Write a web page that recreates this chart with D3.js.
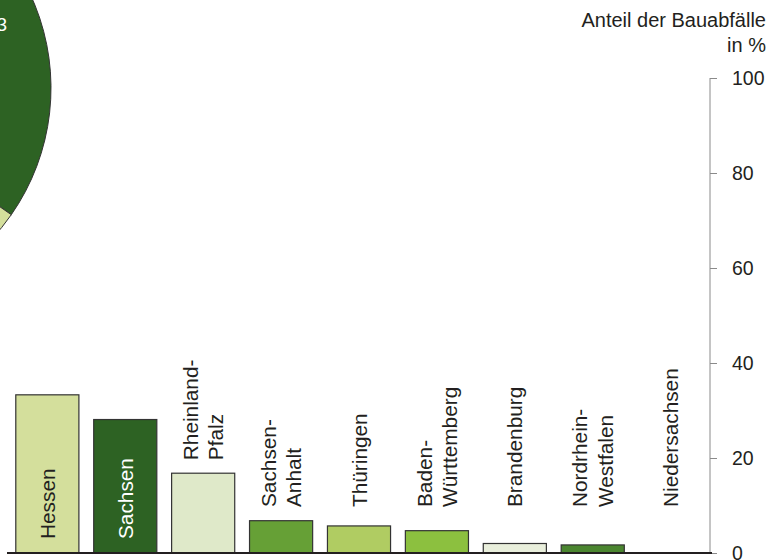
<!DOCTYPE html>
<html><head><meta charset="utf-8">
<script src="https://cdn.jsdelivr.net/npm/d3@7"></script>
<style>body{margin:0;background:#fff}svg{display:block}text{font-family:"Liberation Sans",Arial,Helvetica,sans-serif}</style>
</head><body>
<svg id="c" width="772" height="560"></svg>
<script>
const categories = ["Hessen","Sachsen","Rheinland-Pfalz","Sachsen-Anhalt","Thüringen","Baden-Württemberg","Brandenburg","Nordrhein-Westfalen","Niedersachsen"];
const labelLines = [["Hessen"],["Sachsen"],["Rheinland-","Pfalz"],["Sachsen-","Anhalt"],["Thüringen"],["Baden-","Württemberg"],["Brandenburg"],["Nordrhein-","Westfalen"],["Niedersachsen"]];
const values = [33.3, 28.1, 16.8, 6.8, 5.7, 4.7, 2.0, 1.7, 0];
const colors = ["#d4df9c","#2d6223","#dfe9c9","#66a036","#b0cc62","#8cc03f","#e9efdc","#4b8630","#ffffff"];
const insideLabel = [true, true, false, false, false, false, false, false, false];
const yTicks = [0, 20, 40, 60, 80, 100];
const pieValues = [63, 37];
const pieLabels = ["63", ""];
const pieColors = ["#2d6223", "#d4df9c"];
const titleLines = ["Anteil der Bauabfälle", "in %"];

const svg = d3.select("#c");
const x = d3.scaleBand().domain(categories).range([8, 710]).paddingInner(0.19).paddingOuter(0.1);
const y = d3.scaleLinear().domain([0, 100]).range([553, 78]);

// pie (partly off-canvas)
const pie = d3.pie().sort(null).startAngle(-102 * Math.PI / 180).endAngle((360 - 102) * Math.PI / 180);
const arc = d3.arc().innerRadius(0).outerRadius(222);
const pg = svg.append("g").attr("transform", "translate(-171,88)");
const arcs = pie(pieValues);
pg.selectAll("path").data(arcs).join("path")
  .attr("d", arc).attr("fill", (d, i) => pieColors[i]).attr("stroke", "#333").attr("stroke-width", 1);
svg.append("text").attr("x", 7).attr("y", 31).attr("text-anchor", "end")
  .attr("font-size", 19).attr("fill", "#fff").text(pieLabels[0]);

// axis
const axis = d3.axisRight(y).tickValues(yTicks).tickSize(7).tickPadding(15);
const ag = svg.append("g").attr("transform", "translate(710,0)").call(axis);
ag.select(".domain").attr("stroke", "#8a8a8a").attr("d", `M0,${y(0)}V${y(100)}`);
ag.selectAll(".tick line").attr("stroke", "#8a8a8a");
ag.selectAll(".tick text").attr("font-size", 19.5).attr("fill", "#231f20").attr("font-family", "Liberation Sans, Arial, sans-serif");

// bars
svg.append("g").selectAll("rect").data(values).join("rect")
  .attr("x", (d, i) => x(categories[i]))
  .attr("y", d => y(d))
  .attr("width", x.bandwidth())
  .attr("height", d => y(0) - y(d))
  .attr("fill", (d, i) => colors[i])
  .attr("stroke", (d) => d > 0 ? "#333" : "none").attr("stroke-width", 1.2);

// baseline
svg.append("line").attr("x1", 7).attr("x2", 712).attr("y1", y(0)).attr("y2", y(0))
  .attr("stroke", "#231f20").attr("stroke-width", 2);

// labels
const fs = 20.8, L = 25.5;
categories.forEach((c, i) => {
  const cx = x(c) + x.bandwidth() / 2;
  const lines = labelLines[i];
  const ys = insideLabel[i] ? y(0) - 14 : Math.min(507, y(values[i]) - 13);
  const t = svg.append("text")
    .attr("transform", `translate(${cx},${ys}) rotate(-90)`)
    .attr("font-size", fs)
    .attr("fill", (insideLabel[i] && i === 1) ? "#fff" : "#231f20");
  lines.forEach((ln, k) => {
    t.append("tspan").attr("x", 0)
      .attr("y", (k - (lines.length - 1) / 2) * L + 0.36 * fs)
      .text(ln);
  });
});

// title
const tt = svg.append("text").attr("text-anchor", "end").attr("font-size", 20).attr("fill", "#231f20");
titleLines.forEach((ln, k) => tt.append("tspan").attr("x", 766).attr("y", 27 + k * 25).text(ln));
</script>
</body></html>
